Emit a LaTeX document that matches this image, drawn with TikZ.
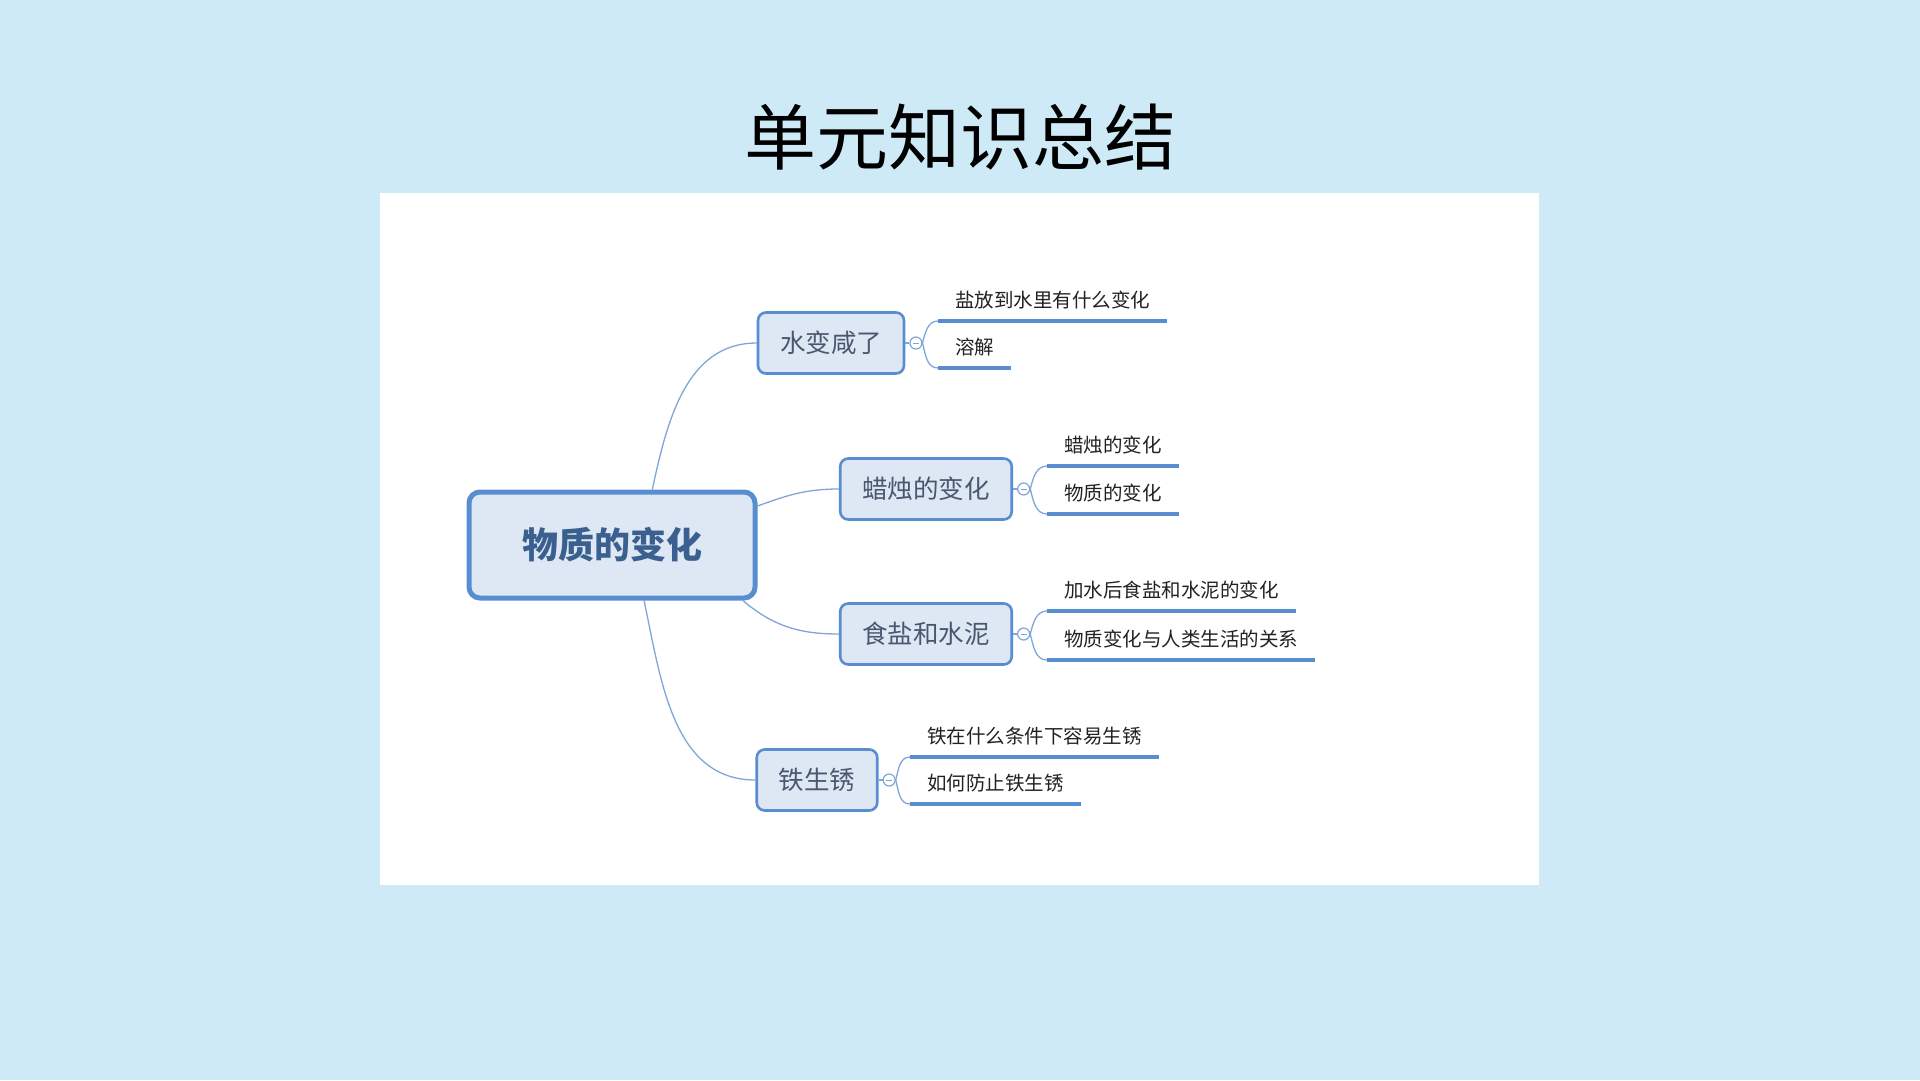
\documentclass[tikz,border=0pt]{standalone}
\usepackage{fontspec}
\usepackage{xcolor}
\usepackage{tikz}
\usetikzlibrary{positioning,calc}
\newfontfamily\cjk{Noto Sans CJK SC}
\definecolor{bgblue}{RGB}{206,234,247}
\definecolor{boxfill}{RGB}{222,232,244}
\definecolor{boxline}{RGB}{88,142,208}
\definecolor{branch}{RGB}{128,166,216}
\definecolor{maintext}{RGB}{58,96,144}
\definecolor{subtext}{RGB}{72,88,110}
\definecolor{leaftext}{RGB}{34,34,34}

\begin{document}
\begin{tikzpicture}[x=1pt, y=1pt,
		topic/.style={rounded corners=8pt, draw=boxline, line width=2.6pt, fill=boxfill, text=subtext, font=\cjk\fontsize{25.5}{26}\selectfont, inner xsep=22pt, minimum height=61pt},
		root/.style={topic, rounded corners=11pt, line width=5pt, text=maintext, font=\cjk\bfseries\fontsize{36}{38}\selectfont, inner xsep=53pt, minimum height=106pt},
		leaf/.style={anchor=south west, text=leaftext, font=\cjk\fontsize{19.5}{20}\selectfont, inner xsep=17pt, minimum height=42pt},
		uline/.style={draw=boxline, line width=3.4pt},
		link/.style={draw=branch, line width=1.3pt},
		fold/.style={circle, draw=branch, line width=1.2pt, fill=white, minimum size=12pt, inner sep=0pt,
			path picture={\draw[branch, line width=1pt] ([xshift=-3pt]path picture bounding box.center) -- ([xshift=3pt]path picture bounding box.center);}}
		]
		\fill[bgblue] (0,0) rectangle (1920,-1080);
		\fill[white] (380,-193) rectangle (1539,-885);
		\node[font=\cjk\fontsize{72}{74}\selectfont, text=black] (title) at (960,-137) {单元知识总结};

		\node[root] (main) at (612,-545) {物质的变化};
		\node[topic] (water) at (831,-343) {水变咸了};
		\node[topic] (candle) at (926,-489) {蜡烛的变化};
		\node[topic] (salt) at (926,-634) {食盐和水泥};
		\node[topic] (iron) at (817,-780) {铁生锈};

		\draw[link] (main.54) to[out=78, in=180] (water.west);
		\draw[link] (main.15) to[out=20, in=180] (candle.west);
		\draw[link] (main.-23) to[out=-40, in=180] (salt.west);
		\draw[link] (main.-60) to[out=-78, in=180] (iron.west);

		\node[leaf] (water1) at (938,-321) {盐放到水里有什么变化};
		\node[leaf] (water2) at (938,-368) {溶解};
		\node[leaf] (candle1) at (1047,-466) {蜡烛的变化};
		\node[leaf] (candle2) at (1047,-514) {物质的变化};
		\node[leaf] (salt1) at (1047,-611) {加水后食盐和水泥的变化};
		\node[leaf] (salt2) at (1047,-660) {物质变化与人类生活的关系};
		\node[leaf] (iron1) at (910,-757) {铁在什么条件下容易生锈};
		\node[leaf] (iron2) at (910,-804) {如何防止铁生锈};

		\foreach \t in {water, candle, salt, iron} {
			\node[fold, right=4pt of \t] (\t-f) {};
			\draw[link] (\t.east) -- (\t-f.west);
			\draw[link] (\t-f.east) to[out=75, in=180] (\t1.south west);
			\draw[link] (\t-f.east) to[out=-75, in=180] (\t2.south west);
			\draw[uline] (\t1.south west) -- (\t1.south east);
			\draw[uline] (\t2.south west) -- (\t2.south east);
		}
\end{tikzpicture}
\end{document}
